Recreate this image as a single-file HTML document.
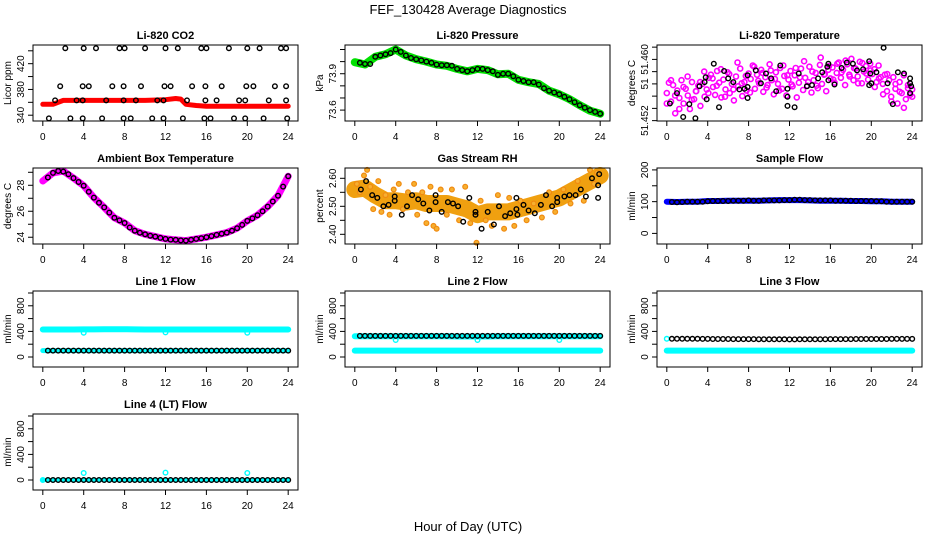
<!DOCTYPE html>
<html><head><meta charset="utf-8"><style>
html,body{margin:0;padding:0;background:#fff;}
svg{display:block;font-family:"Liberation Sans",Arial,sans-serif;}
</style></head><body>
<svg id="chart" width="936" height="540" viewBox="0 0 936 540" xmlns="http://www.w3.org/2000/svg">
<text x="468" y="14" font-size="13" text-anchor="middle">FEF_130428  Average Diagnostics</text>
<text x="468" y="531" font-size="13" text-anchor="middle">Hour of Day (UTC)</text>
</svg>
<script>
// ---------- data ----------
const xTicks = [0,4,8,12,16,20,24];
const hours48 = [0.5,1,1.5,2,2.5,3,3.5,4,4.5,5,5.5,6,6.5,7,7.5,8,8.5,9,9.5,10,10.5,11,11.5,12,12.5,13,13.5,14,14.5,15,15.5,16,16.5,17,17.5,18,18.5,19,19.5,20,20.5,21,21.5,22,22.5,23,23.5,24];
const hours25 = [0,1,2,3,4,5,6,7,8,9,10,11,12,13,14,15,16,17,18,19,20,21,22,23,24];

// CO2
const co2BandHours = [0,1,1.5,2,4,6,8,10,12,13,13.5,14,15,16,18,20,22,24];
const co2BandValues = [357,357,360,363,363,363,363,363,364,366,365,357,355,354,354,354,354,354];
const co2PtHours = [2.2,4,5.2,7.5,8,10,12,13.2,15.5,16,18.2,20,21.2,23.3,23.8, 1.7,3.9,4.5,6.8,7.9,9.6,11.9,12.5,14.6,15.9,17.5,19.9,20.6,22.7,23.8, 1.2,3.3,3.9,6.2,7.9,9.1,11.2,11.8,14.1,15.9,17,19.2,19.8,22.1,23.8, 0.6,2.7,3.9,5.8,7.9,8.6,10.7,11.8,13.7,15.8,16.4,18.7,19.8,21.6,23.9];
const co2PtValues = [444,444,444,444,444,444,444,444,444,444,444,444,444,444,444, 385,385,385,385,385,385,385,385,385,385,385,385,385,385,385, 363,363,363,363,363,363,363,363,363,363,363,363,363,363,363, 335,335,335,335,335,335,335,335,335,335,335,335,335,335,335];

// Pressure
const presBand = [73.995,73.976,74.04,74.06,74.1,74.05,74.02,74.0,73.976,73.965,73.94,73.92,73.94,73.93,73.895,73.9,73.85,73.83,73.815,73.76,73.73,73.69,73.64,73.595,73.57];
const presPts = [73.99,73.98,73.98,74.04,74.05,74.06,74.07,74.1,74.08,74.05,74.03,74.02,74.01,74.0,73.99,73.975,73.97,73.97,73.965,73.94,73.93,73.92,73.93,73.94,73.94,73.93,73.92,73.89,73.9,73.9,73.88,73.85,73.84,73.83,73.83,73.81,73.78,73.76,73.745,73.73,73.71,73.69,73.665,73.64,73.62,73.6,73.585,73.57];

// Li-820 temperature
const tempMagA = [51.4545,51.4562,51.4531,51.4558,51.4512,51.4549,51.4537,51.4566,51.4528,51.4552,51.4541,51.4519,51.4563,51.4535,51.4548,51.4557,51.4524,51.4560,51.4539,51.4551,51.4570,
51.4575,51.4555,51.4542,51.4581,51.4562,51.4538,51.4567,51.4551,51.4579,51.4545,51.4560,51.4533,51.4572,51.4556,51.4585,51.4540,51.4563,51.4549,51.4577,
51.4568,51.4590,51.4552,51.4575,51.4561,51.4583,51.4547,51.4571,51.4558,51.4592,51.4566,51.4543,51.4579,51.4560,51.4586,51.4552,51.4573,51.4541,51.4567,51.4581,51.4556,51.4574,51.4538,51.4562,51.4585,51.4550,51.4570,51.4557,51.4588,51.4546,51.4566,51.4578,51.4553,51.4591,51.4560,51.4575,51.4548,51.4583,51.4569,
51.4587,51.4562,51.4578,51.4595,51.4570,51.4583,51.4558,51.4592,51.4575,51.4601,51.4566,51.4585,51.4572,51.4596,51.4561,51.4580,51.4589,51.4567,51.4593,51.4576,51.4584,51.4563,51.4590,51.4571,
51.4560,51.4575,51.4548,51.4566,51.4539,51.4571,51.4552,51.4528,51.4563,51.4545,51.4574,51.4535,51.4558,51.4542,51.4551];
const tempMagB = [51.4528,51.4566,51.4541,51.4519,51.4555,51.4572,51.4534,51.4548,51.4563,51.4580,51.4545,51.4569,51.4557,51.4584,51.4539,51.4576,51.4551,51.4595,51.4561,51.4573,51.4546,51.4588,51.4565,51.4578,51.4554,51.4582,51.4568,51.4549,51.4590,51.4574,51.4559,51.4586,51.4571,51.4597,51.4563,51.4580,51.4557,51.4603,51.4576,51.4589,51.4567,51.4593,51.4579,51.4598,51.4572,51.4586,51.4561,51.4594,51.4577,51.4582,51.4555,51.4569,51.4543,51.4576,51.4531,51.4560,51.4547,51.4521,51.4553,51.4539];
const tempBlkHours = [0.3,1,1.6,2.2,2.8,3.2,3.7,3.8,3.9,4.6,5.1,5.6,6,6.5,7.1,7.6,7.9,7.9,7.9,8.7,9.2,9.7,10.2,10.7,11.1,11.8,11.8,11.8,12.5,12.9,13.7,14.2,14.8,15.2,15.7,15.8,15.8,16.4,17.1,17.6,18.2,18.6,19.2,19.8,19.8,19.9,20,20.5,21.2,21.6,22.1,22.6,23.2,23.8,23.8,23.8,23.9];
const tempBlkValues = [51.4528,51.4545,51.4506,51.4527,51.4504,51.4556,51.4563,51.4571,51.4535,51.4593,51.4522,51.4581,51.4569,51.4563,51.4551,51.4552,51.4555,51.4574,51.4537,51.4582,51.4561,51.4577,51.4569,51.4548,51.4590,51.4552,51.4539,51.4524,51.4522,51.4577,51.4556,51.4558,51.4569,51.4579,51.4588,51.4566,51.4593,51.4559,51.4586,51.4595,51.4593,51.4582,51.4584,51.4558,51.4597,51.4577,51.4561,51.4579,51.4619,51.4561,51.4527,51.4579,51.4577,51.4569,51.4561,51.4545,51.4556];

// Ambient box temperature
const ambBand = [28.33,28.95,29.1,28.55,27.97,27.05,26.3,25.5,25.1,24.5,24.23,24.05,23.87,23.8,23.74,23.87,24.0,24.18,24.36,24.7,25.26,25.7,26.36,27.2,28.7];
const ambPts = [28.6,28.95,29.1,29.05,28.85,28.55,28.25,27.97,27.5,27.05,26.65,26.3,25.9,25.5,25.3,25.1,24.75,24.5,24.35,24.23,24.12,24.05,23.95,23.87,23.82,23.8,23.76,23.74,23.8,23.87,23.93,24.0,24.09,24.18,24.27,24.36,24.5,24.7,24.95,25.26,25.45,25.7,26.0,26.36,26.75,27.2,27.9,28.7];

// Gas stream RH
const rhBand = [2.56,2.565,2.54,2.52,2.52,2.515,2.52,2.51,2.51,2.51,2.50,2.49,2.47,2.48,2.48,2.48,2.49,2.50,2.51,2.52,2.53,2.55,2.57,2.59,2.61];
const rhScatHours = [0.2,0.5,0.9,1.2,1.5,1.8,2.3,2.6,3.0,3.4,3.8,4.3,4.7,5.2,5.8,6.1,6.6,7.0,7.4,7.7,8.0,8.4,9.0,9.5,10.2,10.8,11.3,11.9,12.3,12.8,13.4,14.0,14.6,15.1,15.6,16.2,16.8,17.5,18.3,19.0,19.6,20.4,21.1,21.8,22.4,23.0,23.4,23.7];
const rhScatValues = [2.58,2.55,2.61,2.63,2.57,2.49,2.59,2.48,2.54,2.47,2.56,2.58,2.49,2.55,2.58,2.47,2.55,2.44,2.57,2.43,2.42,2.56,2.47,2.56,2.45,2.57,2.44,2.37,2.52,2.45,2.43,2.54,2.42,2.53,2.43,2.52,2.45,2.51,2.46,2.55,2.48,2.56,2.51,2.59,2.52,2.63,2.58,2.62];
const rhPtHours = [0.6,1.1,1.7,2.2,2.8,3.3,3.9,3.9,4.6,5.1,5.6,6.2,6.7,7.3,7.9,7.9,8.5,9.1,9.6,10.1,10.6,11.2,11.8,11.8,12.4,13,13.6,14.1,14.7,15.2,15.8,15.8,15.9,16.5,17,17.6,18.2,18.7,19.3,19.8,19.8,20.5,21,21.6,22.1,22.6,23.2,23.8,23.8,23.9];
const rhPtValues = [2.56,2.59,2.54,2.53,2.50,2.505,2.535,2.52,2.47,2.50,2.54,2.525,2.51,2.485,2.515,2.54,2.48,2.515,2.51,2.50,2.445,2.53,2.47,2.48,2.42,2.48,2.435,2.50,2.465,2.475,2.49,2.53,2.47,2.505,2.485,2.475,2.505,2.54,2.50,2.515,2.53,2.535,2.54,2.54,2.56,2.535,2.60,2.575,2.53,2.615];

// Sample flow
const sampBand = [100,99,100,100,102,102,103,103,103,103,104,105,105,105,104,103,103,103,102,102,101,101,100,100,100];
const sampPts = [99,98,99,100,100,100,100,101,102,102,102,102,103,103,103,104,103,103,104,104,104,104,105,105,106,106,105,105,104,104,104,104,103,103,103,103,102,102,102,102,101,101,100,100,100,100,100,100];

// Line flows
const l1High = [430,430,430,430,432,432,435,435,435,432,430,430,430,430,430,430,430,430,430,430,430,430,430,430,430];
const l1Low = [100,100,100,100,100,100,100,100,100,100,100,100,100,100,100,100,100,100,100,100,100,100,100,100,100];
const l1DipHours = [4,12,20];
const l1DipValues = [380,385,380];
const l1Black = [100,100,100,100,100,100,100,100,100,100,100,100,100,100,100,100,100,100,100,100,100,100,100,100,100,100,100,100,100,100,100,100,100,100,100,100,100,100,100,100,100,100,100,100,100,100,100,100];

const l2High = [325,325,325,325,325,325,325,325,325,325,320,320,320,320,325,325,325,325,325,325,325,325,325,325,325];
const l2Low = [100,100,100,100,100,100,100,100,100,100,100,100,100,100,100,100,100,100,100,100,100,100,100,100,100];
const l2DipHours = [4,12,20];
const l2DipValues = [265,265,265];
const l2Black = [330,330,330,330,330,330,330,330,330,330,330,330,330,330,330,330,330,330,330,330,330,330,330,330,330,330,330,330,330,330,330,330,330,330,330,330,330,330,330,330,330,330,330,330,330,330,330,330];

const l3High = [285];
const l3HighHours = [0];
const l3Low = [100,100,100,100,100,100,100,100,100,100,100,100,100,100,100,100,100,100,100,100,100,100,100,100,100];
const l3Black = [285,285,285,285,284,284,283,283,282,282,281,281,280,280,280,279,279,278,278,277,277,276,276,275,275,276,276,277,277,278,278,279,279,280,280,280,281,281,281,282,282,282,282,283,283,283,283,283];

const l4Low = [0,0,0,0,0,0,0,0,0,0,0,0,0,0,0,0,0,0,0,0,0,0,0,0,0];
const l4SpikeHours = [0,4,12,20];
const l4SpikeValues = [0,110,115,110];
const l4Black = [0,0,0,0,0,0,0,0,0,0,0,0,0,0,0,0,0,0,0,0,0,0,0,0,0,0,0,0,0,0,0,0,0,0,0,0,0,0,0,0,0,0,0,0,0,0,0,0];

// ---------- layout ----------
const NS = "http://www.w3.org/2000/svg";
const svg = document.getElementById('chart');
const colLeft = [33, 345, 657];
const rowTop = [45, 168, 291, 414];
const BW = 265, BH = 76;
const X0 = -0.96, X1 = 24.96;

function mk(tag, attrs, parent) {
  const e = document.createElementNS(NS, tag);
  for (const k in attrs) e.setAttribute(k, attrs[k]);
  (parent || svg).appendChild(e);
  return e;
}

function makePanel(col, row, name, title, ylab, yMin, yMax, yTicks, yLabels) {
  const L = colLeft[col], T = rowTop[row];
  const g = mk('g', {});
  
  
  const xs = h => L + (h - X0) / (X1 - X0) * BW;
  const ys = v => T + BH - (v - yMin) / (yMax - yMin) * BH;
  const plot = mk('g', {}, g);
  
  
  const box = mk('rect', {x: L, y: T, width: BW, height: BH, fill: 'none', stroke: '#000', 'stroke-width': 1}, g);
  
  
  const t = mk('text', {x: L + BW / 2, y: T - 6, 'font-size': 11, 'font-weight': 'bold', 'text-anchor': 'middle'}, g);
  t.textContent = title;
  
  
  const xa = mk('g', {}, g);
  
  
  xTicks.forEach(h => {
    mk('line', {x1: xs(h), x2: xs(h), y1: T + BH, y2: T + BH + 5, stroke: '#000'}, xa);
    const tl = mk('text', {x: xs(h), y: T + BH + 19, 'font-size': 10, 'text-anchor': 'middle'}, xa);
    tl.textContent = String(h);
    
    
  });
  const ya = mk('g', {}, g);
  
  
  mk('line', {x1: L, x2: L, y1: ys(yTicks[0]), y2: ys(yTicks[yTicks.length - 1]), stroke: '#000'}, ya);
  yTicks.forEach((v, i) => {
    mk('line', {x1: L - 5, x2: L, y1: ys(v), y2: ys(v), stroke: '#000'}, ya);
    if (yLabels[i]) {
      const tx = L - 9, ty = ys(v);
      const tl = mk('text', {x: tx, y: ty, 'font-size': 10, 'text-anchor': 'middle', transform: `rotate(-90 ${tx} ${ty})`}, ya);
      tl.textContent = yLabels[i];
      
      
    }
  });
  const yx = L - 22, yy = T + BH / 2;
  const yl = mk('text', {x: yx, y: yy, 'font-size': 10, 'text-anchor': 'middle', transform: `rotate(-90 ${yx} ${yy})`}, g);
  yl.textContent = ylab;
  
  
  return {g: plot, xs, ys};
}

function band(p, hrs, vals, color, w, name) {
  const pts = hrs.map((h, i) => p.xs(h).toFixed(1) + ',' + p.ys(vals[i]).toFixed(1)).join(' ');
  const pl = mk('polyline', {points: pts, fill: 'none', stroke: color, 'stroke-width': w, 'stroke-linecap': 'round', 'stroke-linejoin': 'round'}, p.g);
  
  
}
function circles(p, hrs, vals, color, name, r, fill, sw) {
  const grp = mk('g', {}, p.g);
  
  
  hrs.forEach((h, i) => {
    const c = mk('circle', {cx: p.xs(h).toFixed(1), cy: p.ys(vals[i]).toFixed(1), r: r || 2.3, fill: fill || 'none', stroke: color, 'stroke-width': sw || 1.4}, grp);
    
    
  });
}
const idxHours = (arr) => arr.map((_, i) => i * 24 / (arr.length - 1));

// Panel 1: CO2
let p = makePanel(0, 0, 'co2', 'Li-820 CO2', 'Licor ppm', 331, 449, [340,360,380,400,420,440], ['340','','380','','420','']);
band(p, co2BandHours, co2BandValues, '#ff0000', 5, 'co2-red-series');
circles(p, co2PtHours, co2PtValues, '#000', 'co2-hourly-points');

// Panel 2: Pressure
p = makePanel(1, 0, 'pressure', 'Li-820 Pressure', 'kPa', 73.51, 74.137, [73.6,73.7,73.8,73.9,74.0,74.1], ['73.6','','','73.9','','']);
band(p, hours25, presBand, '#00e000', 8, 'pressure-green-series');
circles(p, hours48, presPts, '#000', 'pressure-points');

// Panel 3: Temperature
p = makePanel(2, 0, 'li820-temp', 'Li-820 Temperature', 'degrees C', 51.44994, 51.46235, [51.450,51.452,51.454,51.456,51.458,51.460,51.462], ['51.452','','','51','','51.460','']);
circles(p, idxHours(tempMagA), tempMagA, '#ff00ff', 'li820-temp-magenta-a', 2.5, 'none', 1.6);
circles(p, idxHours(tempMagB), tempMagB, '#ff00ff', 'li820-temp-magenta-b', 2.5, 'none', 1.6);
circles(p, tempBlkHours, tempBlkValues, '#000', 'li820-temp-black-points');

// Panel 4: Ambient box temperature
p = makePanel(0, 1, 'ambient', 'Ambient Box Temperature', 'degrees C', 23.48, 29.33, [24,25,26,27,28,29], ['24','','26','','28','']);
band(p, hours25, ambBand, '#ff00ff', 7, 'ambient-magenta-series');
circles(p, hours48, ambPts, '#000', 'ambient-points');

// Panel 5: RH
p = makePanel(1, 1, 'rh', 'Gas Stream RH', 'percent', 2.3654, 2.6368, [2.40,2.45,2.50,2.55,2.60], ['2.40','','2.50','','2.60']);
band(p, hours25, rhBand, '#f0a010', 17, 'rh-band-series');
circles(p, rhScatHours, rhScatValues, '#f08a10', 'rh-scatter', 2.4, '#f6b030', 1.2);
circles(p, rhPtHours, rhPtValues, '#000', 'rh-black-points');

// Panel 6: Sample flow
p = makePanel(2, 1, 'sample-flow', 'Sample Flow', 'ml/min', -33.4, 206, [0,50,100,150,200], ['0','','100','','200']);
band(p, hours25, sampBand, '#0000ff', 6, 'sample-flow-blue-series');
circles(p, hours48, sampPts, '#000', 'sample-flow-points');

const fTicks = [0,200,400,600,800,1000], fLabels = ['0','','400','','800',''];
p = makePanel(0, 2, 'line1', 'Line 1 Flow', 'ml/min', -156, 1031, fTicks, fLabels);
band(p, hours25, l1High, '#00ffff', 6, 'line1-cyan-high');
band(p, hours25, l1Low, '#00ffff', 5, 'line1-cyan-low');
circles(p, l1DipHours, l1DipValues, '#00ffff', 'line1-cyan-dips');
circles(p, hours48, l1Black, '#000', 'line1-black-points');

p = makePanel(1, 2, 'line2', 'Line 2 Flow', 'ml/min', -156, 1031, fTicks, fLabels);
band(p, hours25, l2High, '#00ffff', 6, 'line2-cyan-high');
band(p, hours25, l2Low, '#00ffff', 6, 'line2-cyan-low');
circles(p, l2DipHours, l2DipValues, '#00ffff', 'line2-cyan-dips');
circles(p, hours48, l2Black, '#000', 'line2-black-points');

p = makePanel(2, 2, 'line3', 'Line 3 Flow', 'ml/min', -156, 1031, fTicks, fLabels);
band(p, hours25, l3Low, '#00ffff', 6, 'line3-cyan-low');
circles(p, l3HighHours, l3High, '#00ffff', 'line3-cyan-start');
circles(p, hours48, l3Black, '#000', 'line3-black-points');

p = makePanel(0, 3, 'line4', 'Line 4 (LT) Flow', 'ml/min', -156, 1031, fTicks, fLabels);
band(p, hours25, l4Low, '#00ffff', 4, 'line4-cyan-low');
circles(p, l4SpikeHours, l4SpikeValues, '#00ffff', 'line4-cyan-spikes');
circles(p, hours48, l4Black, '#000', 'line4-black-points');
</script>
</body></html>
